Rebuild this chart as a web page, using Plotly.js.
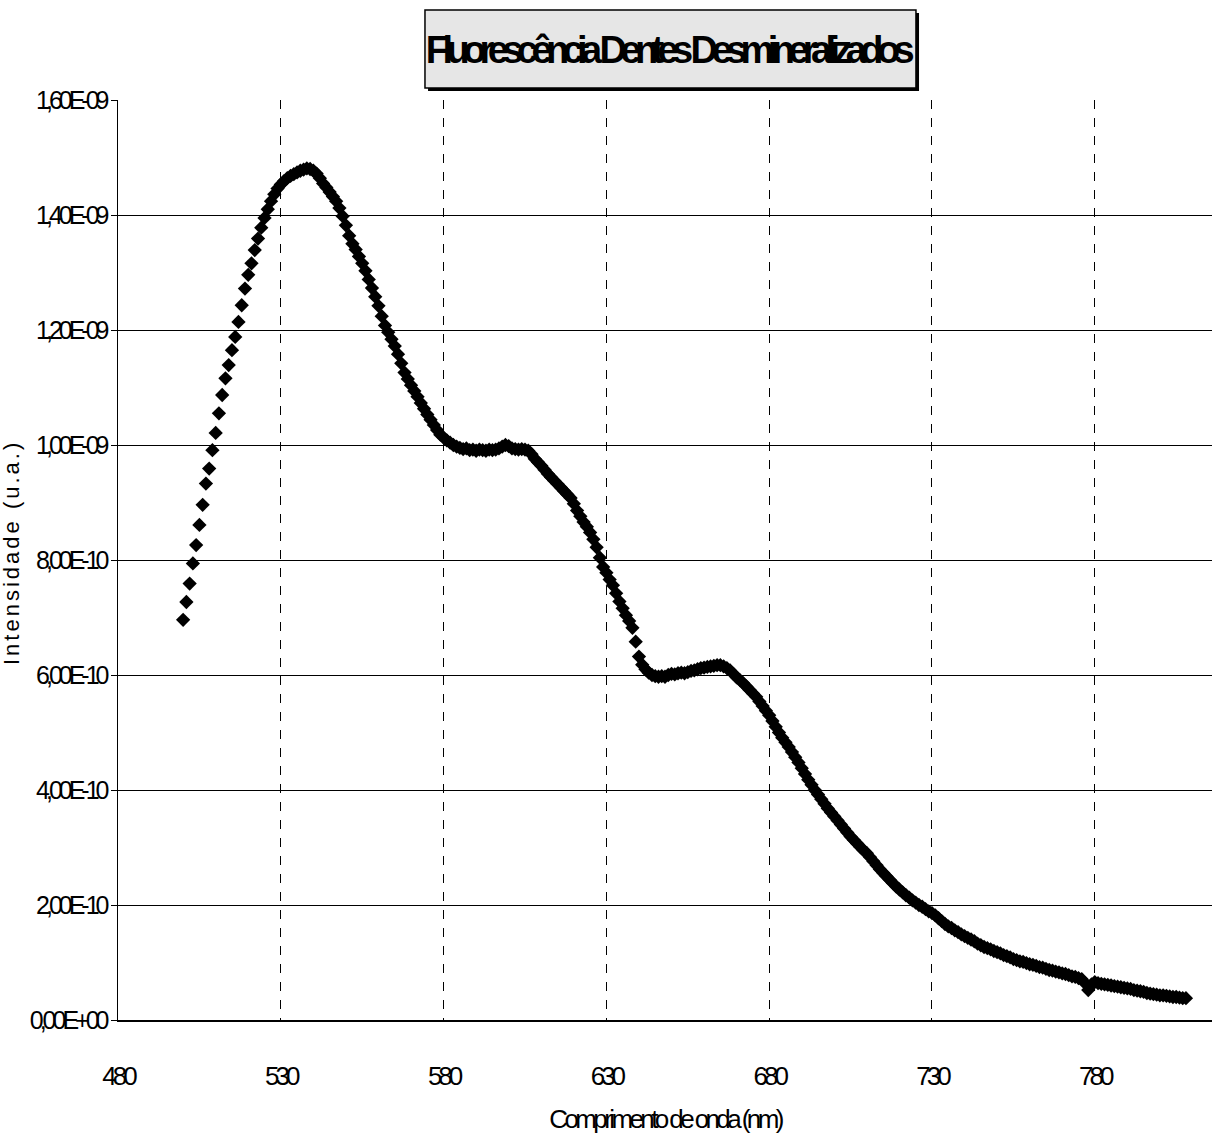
<!DOCTYPE html>
<html>
<head>
<meta charset="utf-8">
<script src="https://cdn.plot.ly/plotly-3.0.1.min.js"></script>
<style>
  html, body { margin: 0; padding: 0; background: #fff; overflow: hidden; }
  #chart { width: 1212px; height: 1148px; }
  #chart .gtitle { letter-spacing: -6.6px; }
  #chart .ytick text { letter-spacing: -4px; }
  #chart .xtick text { letter-spacing: -4px; }
  #chart .xtitle { letter-spacing: -3.6px; }
  #chart .annotation-text { letter-spacing: 3px; }
</style>
</head>
<body>
<div id="chart"></div>
<script>
// Wavelength axis: first sample and step (nm)
const wavelengthStart = 500;
const wavelengthStep = 1;

// Fluorescence intensity, in units of 1E-10 (one value per nm, 500..808 nm)
const intensityE10 = [
  6.96, 7.27, 7.59, 7.94, 8.26, 8.61, 8.96, 9.33, 9.59, 9.91,
  10.21, 10.55, 10.87, 11.16, 11.39, 11.65, 11.88, 12.14, 12.43, 12.72,
  12.96, 13.16, 13.39, 13.59, 13.78, 13.95, 14.10, 14.24, 14.36, 14.46,
  14.53, 14.59, 14.64, 14.68, 14.71, 14.74, 14.77, 14.79, 14.81, 14.80,
  14.77, 14.72, 14.64, 14.55, 14.48, 14.40, 14.32, 14.24, 14.12, 13.98,
  13.82, 13.64, 13.50, 13.40, 13.28, 13.16, 13.03, 12.88, 12.73, 12.58,
  12.42, 12.24, 12.08, 11.96, 11.84, 11.72, 11.58, 11.42, 11.26, 11.15,
  11.04, 10.94, 10.84, 10.73, 10.63, 10.53, 10.44, 10.35, 10.26, 10.18,
  10.13, 10.08, 10.04, 10.00, 9.97, 9.95, 9.93, 9.94, 9.91, 9.92,
  9.90, 9.92, 9.91, 9.90, 9.92, 9.91, 9.92, 9.94, 9.97, 10.00,
  9.98, 9.94, 9.93, 9.92, 9.93, 9.92, 9.90, 9.84, 9.76, 9.70,
  9.64, 9.57, 9.50, 9.44, 9.38, 9.32, 9.26, 9.20, 9.14, 9.08,
  8.98, 8.86, 8.76, 8.66, 8.58, 8.48, 8.36, 8.22, 8.04, 7.88,
  7.78, 7.66, 7.56, 7.42, 7.28, 7.16, 7.04, 6.94, 6.82, 6.58,
  6.32, 6.18, 6.10, 6.04, 6.00, 5.98, 5.97, 5.98, 5.97, 6.00,
  6.02, 6.01, 6.03, 6.04, 6.03, 6.05, 6.07, 6.08, 6.10, 6.12,
  6.13, 6.14, 6.15, 6.16, 6.17, 6.17, 6.15, 6.12, 6.08, 6.02,
  5.96, 5.91, 5.86, 5.80, 5.74, 5.68, 5.62, 5.54, 5.46, 5.38,
  5.30, 5.20, 5.10, 5.00, 4.91, 4.83, 4.75, 4.66, 4.57, 4.48,
  4.38, 4.28, 4.18, 4.09, 4.00, 3.92, 3.84, 3.76, 3.68, 3.61,
  3.54, 3.47, 3.40, 3.33, 3.26, 3.19, 3.13, 3.07, 3.01, 2.95,
  2.90, 2.83, 2.76, 2.69, 2.62, 2.56, 2.50, 2.44, 2.38, 2.32,
  2.27, 2.22, 2.17, 2.13, 2.08, 2.04, 2.00, 1.97, 1.93, 1.89,
  1.86, 1.82, 1.77, 1.72, 1.67, 1.63, 1.60, 1.56, 1.53, 1.49,
  1.46, 1.43, 1.40, 1.37, 1.33, 1.30, 1.27, 1.25, 1.23, 1.20,
  1.18, 1.16, 1.13, 1.11, 1.09, 1.06, 1.04, 1.02, 1.01, 0.99,
  0.97, 0.96, 0.94, 0.92, 0.91, 0.89, 0.87, 0.86, 0.84, 0.83,
  0.81, 0.80, 0.78, 0.76, 0.75, 0.73, 0.71, 0.64, 0.52, 0.62,
  0.66, 0.64, 0.63, 0.62, 0.61, 0.60, 0.59, 0.58, 0.57, 0.56,
  0.55, 0.54, 0.52, 0.51, 0.50, 0.49, 0.47, 0.46, 0.45, 0.44,
  0.43, 0.43, 0.42, 0.41, 0.40, 0.40, 0.39, 0.38, 0.38
];

// Tick values and labels
const xTickVals = [480, 530, 580, 630, 680, 730, 780];
const xTickText = ["480", "530", "580", "630", "680", "730", "780"];
const yTickVals = [0, 2e-10, 4e-10, 6e-10, 8e-10, 1e-9, 1.2e-9, 1.4e-9, 1.6e-9];
const yTickText = ["0,00E+00", "2,00E-10", "4,00E-10", "6,00E-10", "8,00E-10",
                   "1,00E-09", "1,20E-09", "1,40E-09", "1,60E-09"];

const chartTitle = "Fluorescência Dentes Desmineralizados";
const xTitle = "Comprimento de onda (nm)";
const yTitle = "Intensidade (u.a.)";

const UNIT = 1e-10;
const intensity = intensityE10.map(v => v * UNIT);

const FONT = "'Liberation Sans', Arial, sans-serif";

const trace = {
  type: "scatter",
  mode: "markers",
  x0: wavelengthStart,
  dx: wavelengthStep,
  y: intensity,
  marker: { symbol: "diamond", size: 11, color: "#000000", line: { width: 0 } },
  hoverinfo: "x+y",
  showlegend: false
};

const layout = {
  width: 1212,
  height: 1148,
  margin: { l: 118, r: 0, t: 100, b: 128, pad: 0 },
  paper_bgcolor: "#ffffff",
  plot_bgcolor: "#ffffff",
  showlegend: false,
  title: {
    text: chartTitle,
    font: { family: FONT, size: 38, color: "#000", weight: "bold" },
    xref: "paper", x: 0.5018, xanchor: "center",
    yref: "container", y: 0.9565, yanchor: "middle"
  },
  xaxis: {
    range: [480, 816],
    tickmode: "array",
    tickvals: xTickVals,
    ticktext: xTickText,
    ticks: "",
    ticklabelstandoff: 32,
    tickfont: { family: FONT, size: 26, color: "#000" },
    showline: true, linecolor: "#000", linewidth: 1.5,
    showgrid: true, gridcolor: "#000", gridwidth: 1, griddash: "dash",
    zeroline: false,
    title: { text: xTitle, font: { family: FONT, size: 26, color: "#000" }, standoff: 20 }
  },
  yaxis: {
    range: [0, 1.6e-9],
    tickmode: "array",
    tickvals: yTickVals,
    ticktext: yTickText,
    ticks: "outside", ticklen: 6, tickcolor: "#000", tickwidth: 1,
    tickfont: { family: FONT, size: 25, color: "#000" },
    showline: true, linecolor: "#000", linewidth: 1.5,
    showgrid: true, gridcolor: "#000", gridwidth: 1,
    zeroline: false
  },
  annotations: [
    { text: yTitle, xref: "paper", yref: "paper", x: -0.0969, y: 0.5087,
      xanchor: "center", yanchor: "middle", textangle: -90, showarrow: false,
      font: { family: FONT, size: 22, color: "#000" } }
  ],
  shapes: [
    { type: "rect", xref: "paper", yref: "paper", layer: "above",
      x0: 0.2834, x1: 0.7322, y0: 1.0098, y1: 1.0946,
      fillcolor: "#000", line: { width: 0 } },
    { type: "rect", xref: "paper", yref: "paper", layer: "above",
      x0: 0.2806, x1: 0.7294, y0: 1.0130, y1: 1.0978,
      fillcolor: "#e6e6e6", line: { color: "#000", width: 1.5 } }
  ]
};

Plotly.newPlot("chart", [trace], layout, { displayModeBar: false, staticPlot: true });
</script>
</body>
</html>
